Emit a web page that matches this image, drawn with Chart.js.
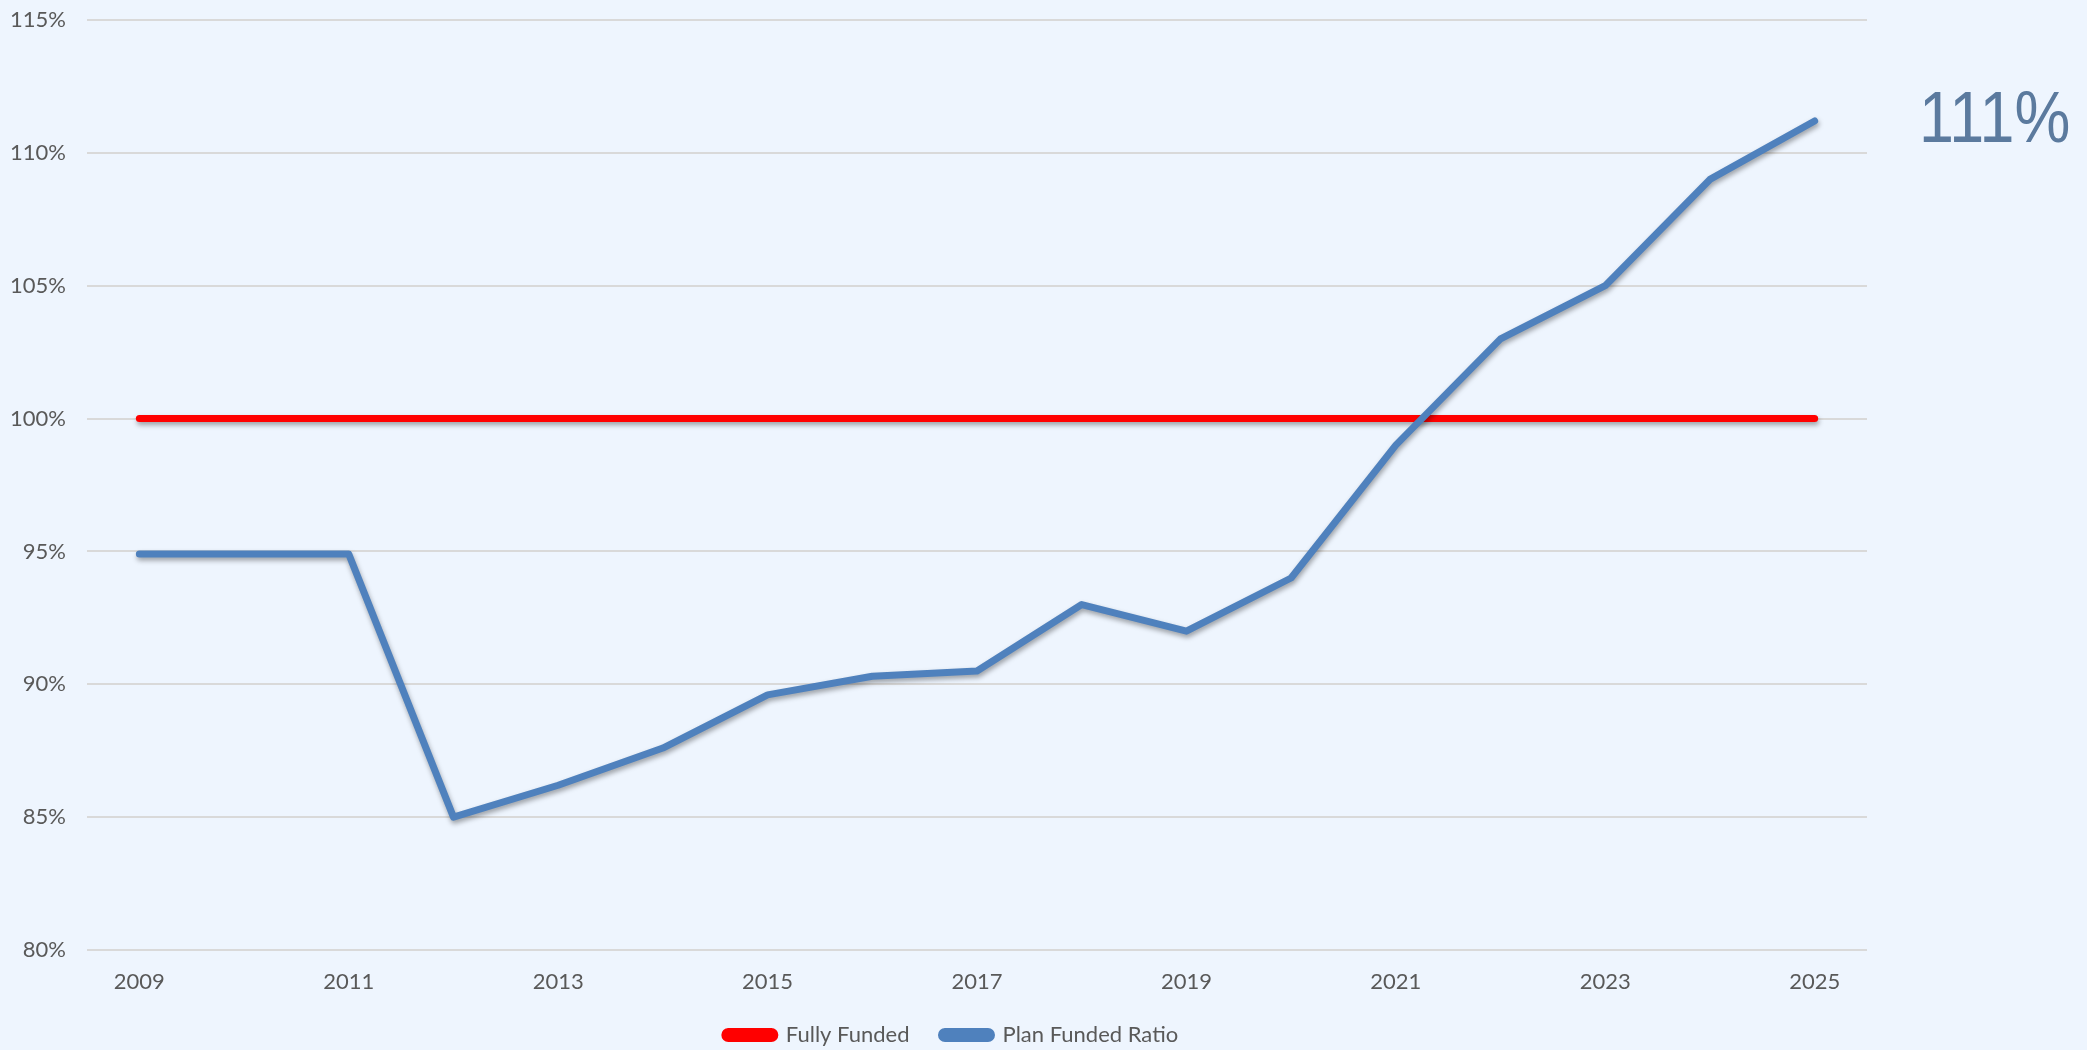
<!DOCTYPE html>
<html>
<head>
<meta charset="utf-8">
<script src="https://cdn.jsdelivr.net/npm/chart.js@4"></script>
<style>
  html, body { margin: 0; padding: 0; background: #eef5fe; }
  #wrap { width: 2087px; height: 1050px; }
</style>
</head>
<body>
<div id="wrap"><canvas id="chart"></canvas></div>
<script>
const years = ['2009','2010','2011','2012','2013','2014','2015','2016','2017','2018','2019','2020','2021','2022','2023','2024','2025'];
const fullyFunded = [100,100,100,100,100,100,100,100,100,100,100,100,100,100,100,100,100];
const planFundedRatio = [94.9,94.9,94.9,85.0,86.2,87.6,89.6,90.3,90.5,93.0,92.0,94.0,99.0,103.0,105.0,109.0,111.2];
const calloutText = '111%';

const tickColor = '#595959';
const tickFont = { family: 'Lato', size: 22 };

// soft drop shadow under each line
const lineShadow = {
  id: 'lineShadow',
  beforeDatasetDraw(chart) {
    const ctx = chart.ctx;
    ctx.save();
    ctx.shadowColor = 'rgba(0,0,0,0.35)';
    ctx.shadowBlur = 5;
    ctx.shadowOffsetX = 1;
    ctx.shadowOffsetY = 3;
  },
  afterDatasetDraw(chart) {
    chart.ctx.restore();
  }
};

// legend sits a little right of the plot centre in the original
const legendNudge = {
  id: 'legendNudge',
  afterLayout(chart) {
    chart.legend.left += 18;
    chart.legend.right += 18;
  }
};

// big value label to the right of the last point
const callout = {
  id: 'callout',
  afterDraw(chart) {
    const ctx = chart.ctx;
    const y = chart.scales.y.getPixelForValue(planFundedRatio[planFundedRatio.length - 1]);
    ctx.save();
    ctx.fillStyle = '#5b7a9e';
    ctx.font = '73px "Liberation Sans"';
    ctx.textBaseline = 'middle';
    ctx.translate(1919, y + 1);
    ctx.scale(0.86, 1);
    ctx.fillText(calloutText, 0, 0);
    ctx.restore();
  }
};

new Chart('chart', {
  type: 'line',
  data: {
    labels: years,
    datasets: [
      {
        label: 'Fully Funded',
        data: fullyFunded,
        borderColor: '#ff0000',
        backgroundColor: '#ff0000',
        borderWidth: 7,
        pointRadius: 0,
        borderCapStyle: 'round',
        order: 1
      },
      {
        label: 'Plan Funded Ratio',
        data: planFundedRatio,
        borderColor: '#4f81bd',
        backgroundColor: '#4f81bd',
        borderWidth: 7,
        pointRadius: 0,
        borderCapStyle: 'round',
        borderJoinStyle: 'round',
        order: 0
      }
    ]
  },
  options: {
    responsive: true,
    maintainAspectRatio: false,
    animation: false,
    layout: { padding: { top: 20, right: 220, bottom: -6, left: 0 } },
    scales: {
      x: {
        offset: true,
        grid: { display: false, drawTicks: false },
        border: { display: false },
        ticks: {
          autoSkip: false,
          maxRotation: 0,
          color: tickColor,
          font: tickFont,
          padding: 19,
          callback: (v, i) => (i % 2 === 0 ? years[i] : '')
        },
        afterFit: s => { s.height = 42; s.paddingLeft = 0; s.paddingRight = 0; }
      },
      y: {
        min: 80,
        max: 115,
        grid: { color: '#d9d9d9', lineWidth: 2, drawTicks: false },
        border: { display: false },
        ticks: {
          stepSize: 5,
          color: tickColor,
          font: tickFont,
          padding: 21,
          callback: v => v + '%'
        },
        afterFit: s => { s.width = 87; s.paddingTop = 0; s.paddingBottom = 0; }
      }
    },
    plugins: {
      legend: {
        position: 'bottom',
        labels: {
          color: tickColor,
          font: { family: 'Lato', size: 22 },
          boxWidth: 50,
          boxHeight: 7,
          useBorderRadius: true,
          borderRadius: 3.5,
          padding: 32,
          sort: (a, b) => a.datasetIndex - b.datasetIndex
        }
      },
      tooltip: { enabled: false }
    }
  },
  plugins: [lineShadow, legendNudge, callout]
});
</script>
</body>
</html>
